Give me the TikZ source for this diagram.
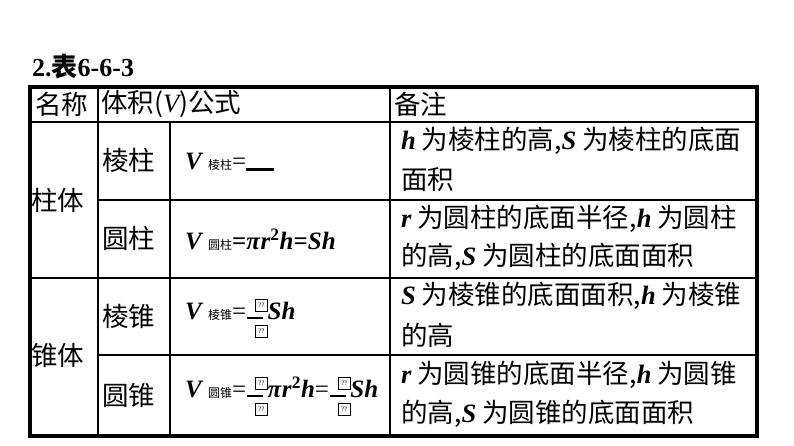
\documentclass[tikz,border=0pt]{standalone}
\usepackage{fontspec}
\setmainfont{Liberation Serif}
\newfontfamily\cjk{Noto Sans CJK SC}
\newfontfamily\lat{Liberation Serif}
\tikzset{
  outer/.style={line width=3.5pt},
  inner/.style={line width=1.8pt},
  cell/.style={anchor=west,inner sep=0pt,font=\fontsize{26.5}{30}\selectfont\cjk},
  formula/.style={anchor=west,inner sep=0pt,font=\fontsize{25}{28}\selectfont\lat},
  qbox/.style={draw,line width=0.7pt,inner sep=0.5pt,minimum width=12pt,minimum height=12pt,font=\fontsize{7}{7}\selectfont}
}
\newcommand{\vv}[1]{{\lat\bfseries\itshape #1}}
\newcommand{\sub}[1]{{\fontsize{12}{12}\selectfont\cjk #1}}
\newcommand{\qfrac}{\tikz[baseline=7pt,x=1pt,y=1pt]{\node[qbox] (qa) at (0,21) {??};\draw[line width=1.5pt] (-8,8)--(8,8);\node[qbox] (qb) at (0,-5) {??};}}
\begin{document}
\begin{tikzpicture}[x=1pt,y=-1pt]
\useasboundingbox (0,0) rectangle (794,446);
\node[anchor=west,inner sep=0pt,font=\fontsize{26}{28}\selectfont\lat\bfseries] (title) at (32,67) {2.{\cjk\bfseries 表}6-6-3};
% inner lines
\draw[inner] (30,122) -- (757,122);
\draw[inner] (98,200) -- (757,200);
\draw[inner] (30,278) -- (757,278);
\draw[inner] (98,355) -- (757,355);
\draw[inner] (98,87) -- (98,436);
\draw[inner] (170,122) -- (170,436);
\draw[inner] (390,87) -- (390,436);
\draw[outer] (30,87) rectangle (757,436);
% header
\node[cell] (h1) at (35,104) {名称};
\node[cell] (h2) at (101,104) {体积({\lat\itshape V})公式};
\node[cell] (h3) at (394,104) {备注};
\node[cell] (g1) at (31,200) {柱体};
\node[cell] (g2) at (31,355) {锥体};
\node[cell] (n1) at (102,160) {棱柱};
\node[cell] (n2) at (102,238) {圆柱};
\node[cell] (n3) at (102,316) {棱锥};
\node[cell] (n4) at (102,395) {圆锥};
% formulas
\node[formula] (f1) at (185,162) {\vv{V}\ \sub{棱柱}=\rule[-1pt]{28pt}{2.4pt}};
\node[formula] (f2) at (185,240) {\vv{V}\ \sub{圆柱}\textbf{=\textit{π}\textit{r}\textsuperscript{2}\textit{h}=\textit{Sh}}};
\node[formula] (f3) at (185,318) {\vv{V}\ \sub{棱锥}=\qfrac\vv{Sh}};
\node[formula] (f4) at (185,396) {\vv{V}\ \sub{圆锥}=\qfrac\textbf{\textit{π}\textit{r}\textsuperscript{2}\textit{h}}=\qfrac\vv{Sh}};
% remarks
\node[cell] (r1a) at (401,141) {\vv{h} 为棱柱的高,\vv{S} 为棱柱的底面};
\node[cell] (r1b) at (401,180) {面积};
\node[cell] (r2a) at (401,219) {\vv{r} 为圆柱的底面半径,\vv{h} 为圆柱};
\node[cell] (r2b) at (401,257) {的高,\vv{S} 为圆柱的底面面积};
\node[cell] (r3a) at (401,296) {\vv{S} 为棱锥的底面面积,\vv{h} 为棱锥};
\node[cell] (r3b) at (401,335) {的高};
\node[cell] (r4a) at (401,375) {\vv{r} 为圆锥的底面半径,\vv{h} 为圆锥};
\node[cell] (r4b) at (401,414) {的高,\vv{S} 为圆锥的底面面积};
\end{tikzpicture}
\end{document}
